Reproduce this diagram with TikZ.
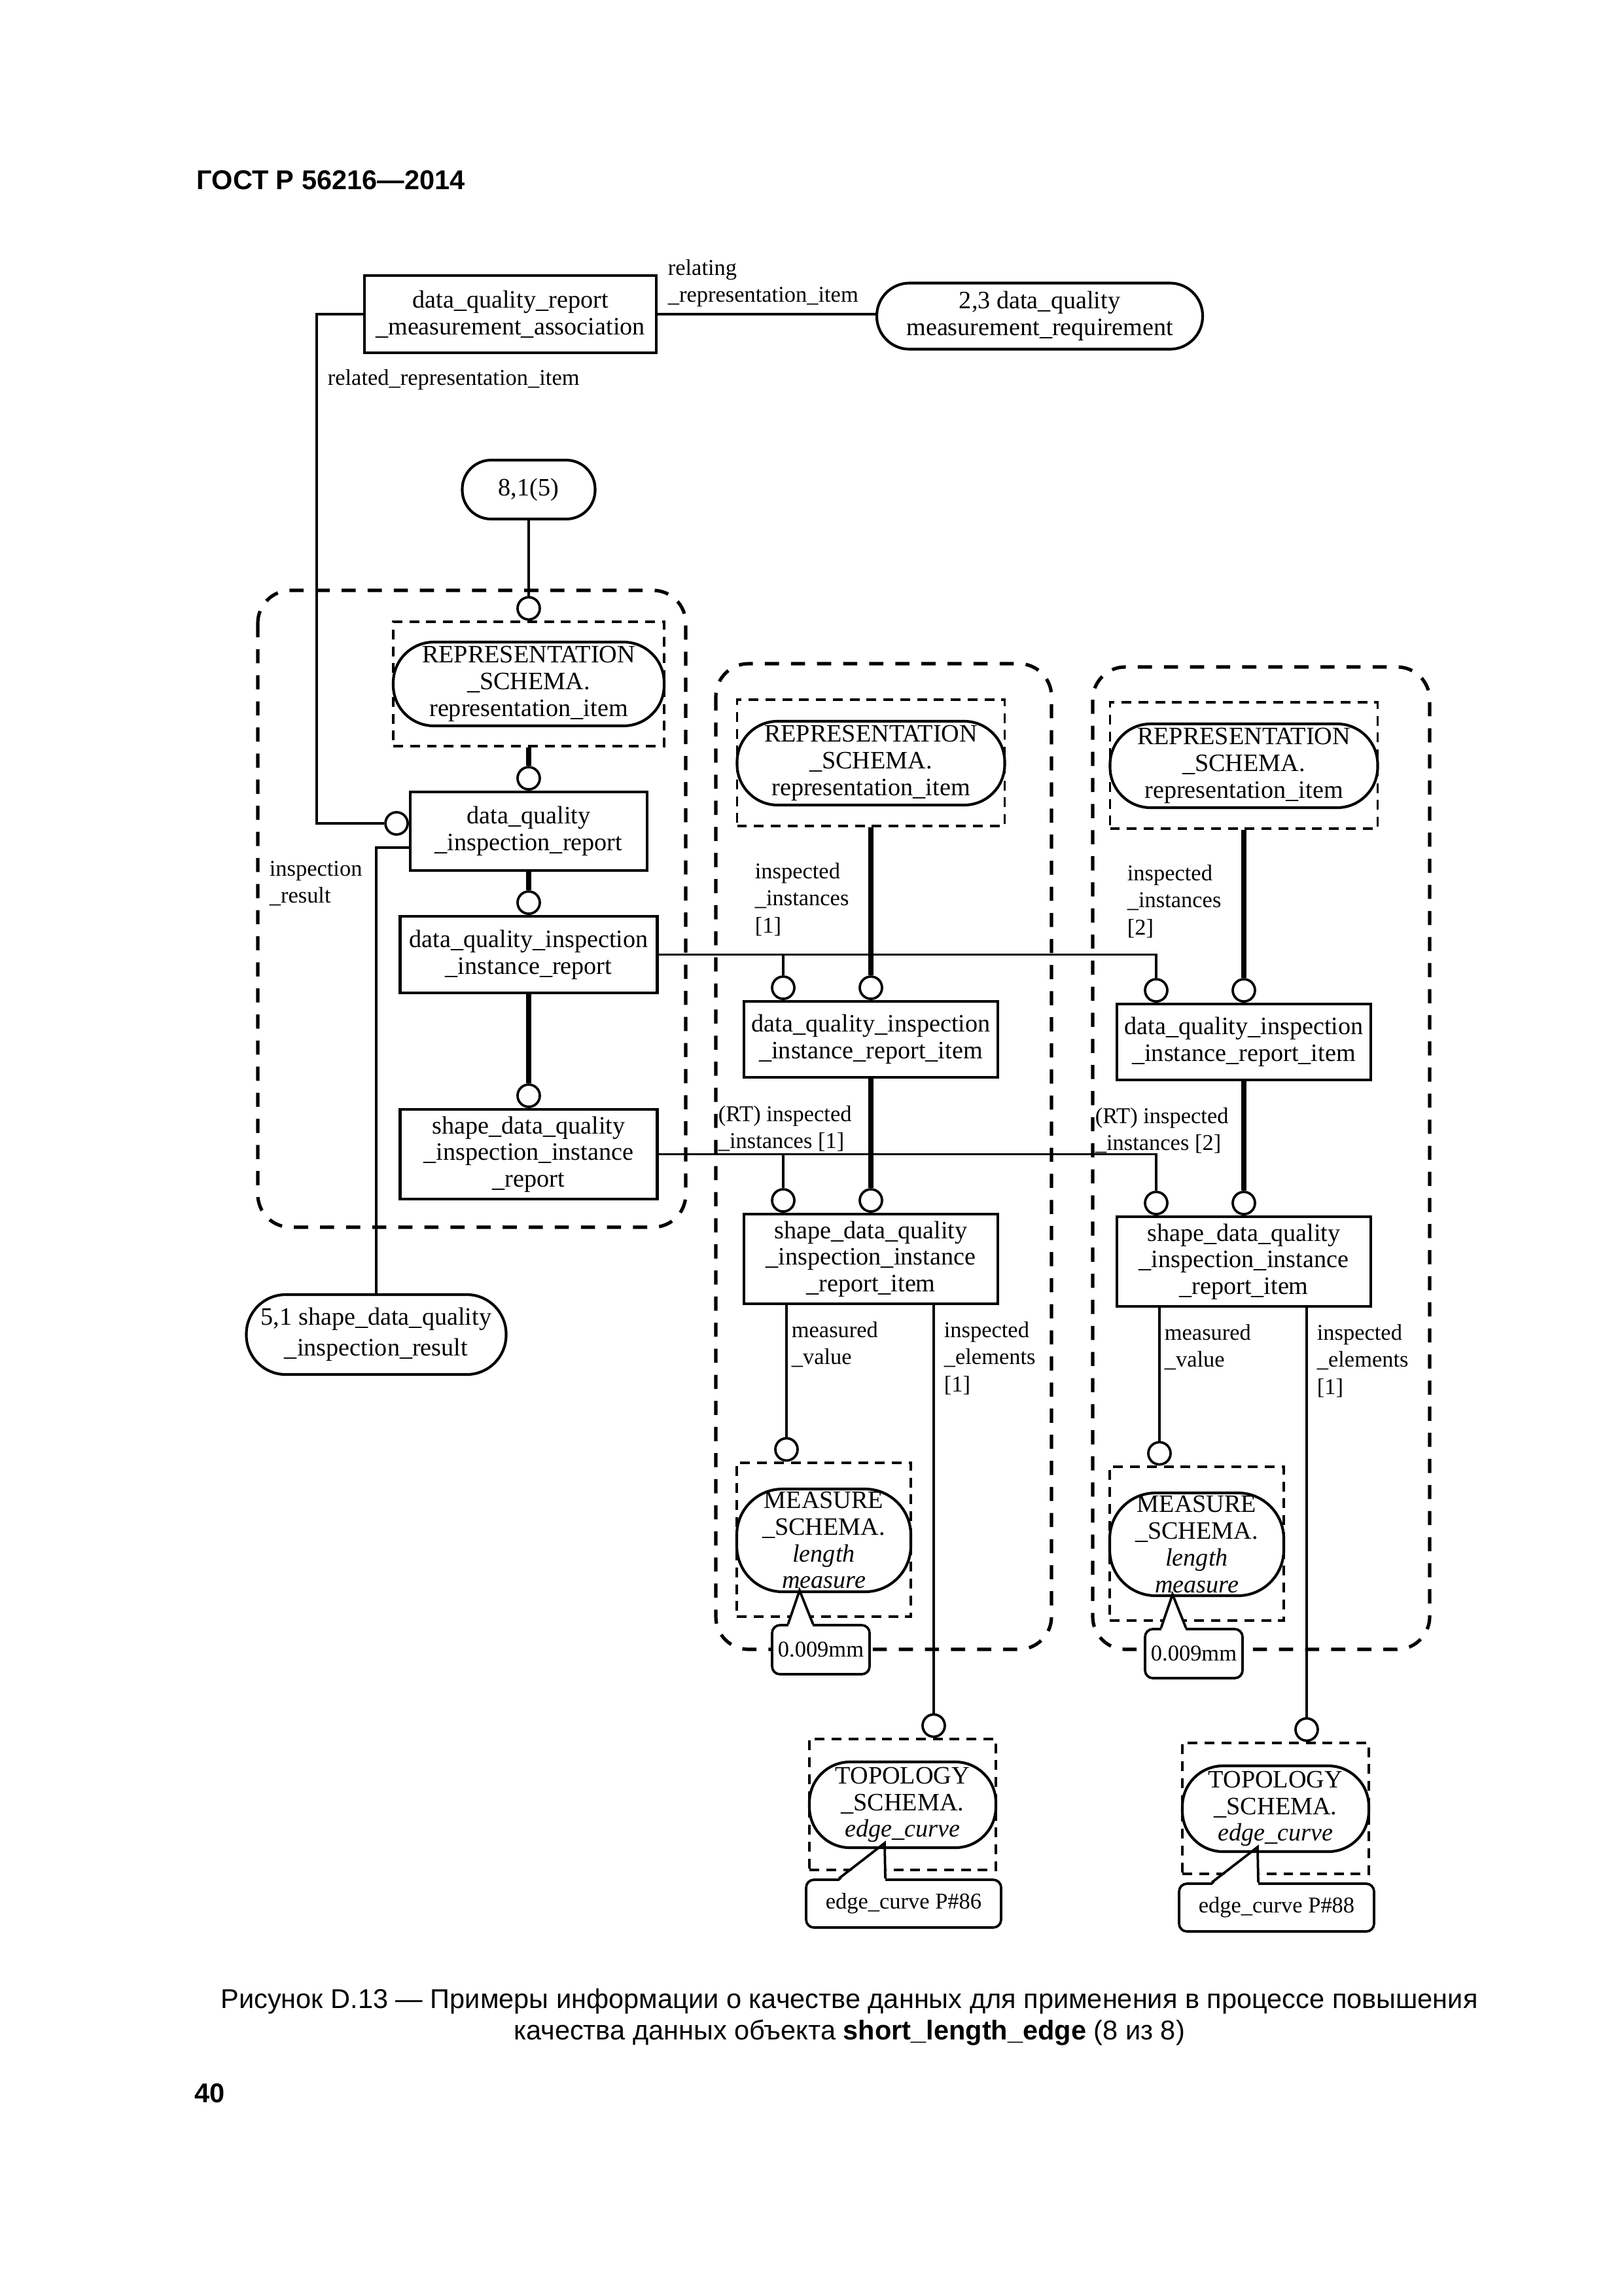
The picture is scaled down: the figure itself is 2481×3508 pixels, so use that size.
\documentclass[tikz,border=0pt]{standalone}
\usepackage{fontspec}
\setmainfont{Liberation Serif}
\newfontfamily\arialf{Liberation Sans}
\usetikzlibrary{calc}
\newdimen\px \px=0.084643mm
\pgfdeclarelayer{bg}
\pgfsetlayers{bg,main}
\tikzset{
  nf/.style={font=\fontsize{9.2}{9.8}\selectfont},
  ent/.style={draw, line width=1pt, inner sep=0pt, align=center, nf},
  sch/.style={draw, line width=1pt, inner sep=0pt, align=center, nf},
  grp/.style={draw, line width=0.8pt, dash pattern=on 3.6pt off 2.6pt, inner sep=0pt},
  bigbox/.style={line width=1.25pt, dash pattern=on 5.2pt off 4.4pt, rounded corners=50\px},
  lbl/.style={inner sep=0pt, anchor=base west, font=\fontsize{8.3}{10}\selectfont},
  ring/.style={circle, draw, line width=0.9pt, minimum size=34\px, inner sep=0pt, fill=white},
  rel/.style={line width=0.8pt},
  heavy/.style={line width=2pt},
  callout/.style={draw, line width=0.9pt, fill=white, rounded corners=12\px, inner sep=0pt, font=\fontsize{8.3}{10}\selectfont},
  ptr/.style={line width=0.9pt, line join=miter},
}
\begin{document}
\begin{tikzpicture}[x=\px,y=-\px]
\useasboundingbox (0,0) rectangle (2481,3508);

% header
\node[anchor=base west, inner sep=0pt, font=\arialf\fontsize{10}{12}\selectfont\bfseries] (hdr) at (300,289) {ГОСТ Р 56216—2014};

% big dashed groups
\begin{pgfonlayer}{bg}
\draw[bigbox] (394,902) rectangle (1048,1875);
\draw[bigbox] (1094,1014) rectangle (1607,2520);
\draw[bigbox] (1670,1019) rectangle (2185,2520);
\end{pgfonlayer}

% top association
\node[ent, minimum width=446\px, minimum height=118\px] (dqrma) at (780,480) {data\_quality\_report\\\_measurement\_association};
\node[sch, rounded corners=50\px, minimum width=498\px, minimum height=101\px] (dqmr) at (1589,483) {2,3 data\_quality\\measurement\_requirement};
\draw[rel] (dqrma.east) -- (dqrma.east -| dqmr.west);
\node[lbl] (lrel) at (1020,420) {\begin{tabular}[t]{@{}l@{}}relating\\\_representation\_item\end{tabular}};
\node[lbl] (lrelated) at (500,588) {related\_representation\_item};

\node[sch, rounded corners=44\px, minimum width=203\px, minimum height=90\px] (ref81) at (808,748) {8,1(5)};

% ---------- group 1
\node[grp, minimum width=414\px, minimum height=190\px] (g1) at (808,1045) {};
\node[sch, rounded corners=62\px, minimum width=414\px, minimum height=128\px] (s1) at (808,1045) {REPRESENTATION\\\_SCHEMA.\\representation\_item};
\node[ring, anchor=south] (c1) at (g1.north) {};
\draw[rel] (ref81.south) -- (c1.north);

\node[ent, minimum width=362\px, minimum height=120\px] (dqir) at (808,1270) {data\_quality\\\_inspection\_report};
\node[ring, anchor=south] (c2) at (dqir.north) {};
\draw[heavy] (g1.south) -- (c2.north);
\coordinate (h1) at (484,1258);
\node[ring, anchor=east] (c3) at (dqir.west |- h1) {};
\draw[rel] (dqrma.west) -| (h1) -- (c3.west);

\node[sch, rounded corners=60\px, minimum width=397\px, minimum height=122\px, font=\fontsize{9.2}{11.2}\selectfont] (res51) at (575,2039) {5,1 shape\_data\_quality\\\_inspection\_result};
\coordinate (h2) at (600,1295);
\draw[rel] (dqir.west |- h2) -| (res51.north);
\node[lbl] (linsp) at (411,1338) {\begin{tabular}[t]{@{}l@{}}inspection\\\_result\end{tabular}};

\node[ent, minimum width=393\px, minimum height=117\px] (dqiir) at (808,1458.5) {data\_quality\_inspection\\\_instance\_report};
\node[ring, anchor=south] (c4) at (dqiir.north) {};
\draw[heavy] (dqir.south) -- (c4.north);
\node[ent, minimum width=393\px, minimum height=137\px] (sdqiir) at (808,1763.5) {shape\_data\_quality\\\_inspection\_instance\\\_report};
\node[ring, anchor=south] (c5) at (sdqiir.north) {};
\draw[heavy] (dqiir.south) -- (c5.north);

% ---------- group 2
\node[grp, minimum width=409\px, minimum height=193\px] (g2) at (1331,1165.5) {};
\node[sch, rounded corners=62\px, minimum width=409\px, minimum height=128\px] (s2) at (1331,1166) {REPRESENTATION\\\_SCHEMA.\\representation\_item};
\node[ent, minimum width=388\px, minimum height=116\px] (ita) at (1331,1588) {data\_quality\_inspection\\\_instance\_report\_item};
\node[ring, anchor=south] (c7) at (ita.north) {};
\node[ring, anchor=south] (c6) at ([xshift=-134\px]ita.north) {};
\draw[heavy] (g2.south) -- (c7.north);
\node[ent, minimum width=388\px, minimum height=137\px] (itb) at (1331,1923.5) {shape\_data\_quality\\\_inspection\_instance\\\_report\_item};
\node[ring, anchor=south] (c9) at (itb.north) {};
\node[ring, anchor=south] (c10) at ([xshift=-134\px]itb.north) {};
\draw[heavy] (ita.south) -- (c9.north);
\node[lbl] (l2a) at (1153,1342) {\begin{tabular}[t]{@{}l@{}}inspected\\\_instances\\{[1]}\end{tabular}};
\node[lbl] (l2b) at (1097,1713) {\begin{tabular}[t]{@{}l@{}}(RT) inspected\\\_instances [1]\end{tabular}};
\node[lbl] (l2c) at (1209,2043) {\begin{tabular}[t]{@{}l@{}}measured\\\_value\end{tabular}};
\node[lbl] (l2d) at (1442,2043) {\begin{tabular}[t]{@{}l@{}}inspected\\\_elements\\{[1]}\end{tabular}};

\node[grp, minimum width=266\px, minimum height=235\px] (g3) at (1259,2352.5) {};
\node[ring, anchor=south] (c11) at ([xshift=-57\px]g3.north) {};
\draw[rel] (c11.north |- itb.south) -- (c11.north);
\node[callout, minimum width=149\px, minimum height=75\px] (k1) at (1254.5,2520.5) {0.009mm};
\coordinate (t1) at (1222,2430);
\fill[white] ([xshift=-50\px,yshift=-4\px]k1.north) -- (t1) -- ([xshift=-12\px,yshift=-4\px]k1.north) -- cycle;
\draw[ptr] ([xshift=-50\px]k1.north) -- (t1) -- ([xshift=-12\px]k1.north);
\node[sch, rounded corners=70\px, minimum width=266\px, minimum height=157\px] (s3) at (1259,2353.5) {MEASURE\\\_SCHEMA.\\\textit{length}\\\textit{measure}};

\node[grp, minimum width=285\px, minimum height=200\px] (g4) at (1379.5,2757) {};
\node[ring, anchor=south] (c13) at ([xshift=47.5\px]g4.north) {};
\draw[rel] (c13.north |- itb.south) -- (c13.north);
\node[callout, minimum width=298\px, minimum height=73\px] (k2) at (1381,2908.5) {edge\_curve P\#86};
\coordinate (t2) at (1352,2816);
\fill[white] ([xshift=-99\px,yshift=-4\px]k2.north) -- (t2) -- ([xshift=-28\px,yshift=-4\px]k2.north) -- cycle;
\draw[ptr] ([xshift=-99\px]k2.north) -- (t2) -- ([xshift=-28\px]k2.north);
\node[sch, rounded corners=62\px, minimum width=285\px, minimum height=131\px] (s4) at (1379.5,2757.5) {TOPOLOGY\\\_SCHEMA.\\\textit{edge\_curve}};

% ---------- group 3
\node[grp, minimum width=409\px, minimum height=193\px] (g2r) at (1901,1169.5) {};
\node[sch, rounded corners=62\px, minimum width=409\px, minimum height=128\px] (s2r) at (1901,1170) {REPRESENTATION\\\_SCHEMA.\\representation\_item};
\node[ent, minimum width=388\px, minimum height=116\px] (itar) at (1901,1592) {data\_quality\_inspection\\\_instance\_report\_item};
\node[ring, anchor=south] (c7r) at (itar.north) {};
\node[ring, anchor=south] (c8) at ([xshift=-134\px]itar.north) {};
\draw[heavy] (g2r.south) -- (c7r.north);
\node[ent, minimum width=388\px, minimum height=137\px] (itbr) at (1901,1927.5) {shape\_data\_quality\\\_inspection\_instance\\\_report\_item};
\node[ring, anchor=south] (c9r) at (itbr.north) {};
\node[ring, anchor=south] (c12) at ([xshift=-134\px]itbr.north) {};
\draw[heavy] (itar.south) -- (c9r.north);
\node[lbl] (l3a) at (1722,1345) {\begin{tabular}[t]{@{}l@{}}inspected\\\_instances\\{[2]}\end{tabular}};
\node[lbl] (l3b) at (1673,1716) {\begin{tabular}[t]{@{}l@{}}(RT) inspected\\\_instances [2]\end{tabular}};
\node[lbl] (l3c) at (1779,2047) {\begin{tabular}[t]{@{}l@{}}measured\\\_value\end{tabular}};
\node[lbl] (l3d) at (2012,2047) {\begin{tabular}[t]{@{}l@{}}inspected\\\_elements\\{[1]}\end{tabular}};

\node[grp, minimum width=266\px, minimum height=235\px] (g3r) at (1829,2358.5) {};
\node[ring, anchor=south] (c11r) at ([xshift=-57\px]g3r.north) {};
\draw[rel] (c11r.north |- itbr.south) -- (c11r.north);
\node[callout, minimum width=149\px, minimum height=75\px] (k3) at (1824.5,2526.5) {0.009mm};
\coordinate (t3) at (1792,2436);
\fill[white] ([xshift=-50\px,yshift=-4\px]k3.north) -- (t3) -- ([xshift=-12\px,yshift=-4\px]k3.north) -- cycle;
\draw[ptr] ([xshift=-50\px]k3.north) -- (t3) -- ([xshift=-12\px]k3.north);
\node[sch, rounded corners=70\px, minimum width=266\px, minimum height=157\px] (s3r) at (1829,2359.5) {MEASURE\\\_SCHEMA.\\\textit{length}\\\textit{measure}};

\node[grp, minimum width=285\px, minimum height=200\px] (g4r) at (1949.5,2763) {};
\node[ring, anchor=south] (c13r) at ([xshift=47.5\px]g4r.north) {};
\draw[rel] (c13r.north |- itbr.south) -- (c13r.north);
\node[callout, minimum width=298\px, minimum height=73\px] (k4) at (1951,2914.5) {edge\_curve P\#88};
\coordinate (t4) at (1922,2822);
\fill[white] ([xshift=-99\px,yshift=-4\px]k4.north) -- (t4) -- ([xshift=-28\px,yshift=-4\px]k4.north) -- cycle;
\draw[ptr] ([xshift=-99\px]k4.north) -- (t4) -- ([xshift=-28\px]k4.north);
\node[sch, rounded corners=62\px, minimum width=285\px, minimum height=131\px] (s4r) at (1949.5,2763.5) {TOPOLOGY\\\_SCHEMA.\\\textit{edge\_curve}};

% ---------- cross connectors
\draw[rel] (dqiir.east) -| (c8.north);
\draw[rel] (c6.north) -- (c6.north |- dqiir.east);
\draw[rel] (sdqiir.east) -| (c12.north);
\draw[rel] (c10.north) -- (c10.north |- sdqiir.east);

% caption
\node[anchor=base, inner sep=0pt, font=\arialf\fontsize{10}{12}\selectfont] (cap1) at (1298,3068) {Рисунок D.13 — Примеры информации о качестве данных для применения в процессе повышения};
\node[anchor=base, inner sep=0pt, font=\arialf\fontsize{10}{12}\selectfont] (cap2) at (1298,3116) {качества данных объекта \textbf{short\_length\_edge} (8 из 8)};
\node[anchor=base west, inner sep=0pt, font=\arialf\fontsize{10}{12}\selectfont\bfseries] (pg) at (297,3212) {40};
\end{tikzpicture}
\end{document}
